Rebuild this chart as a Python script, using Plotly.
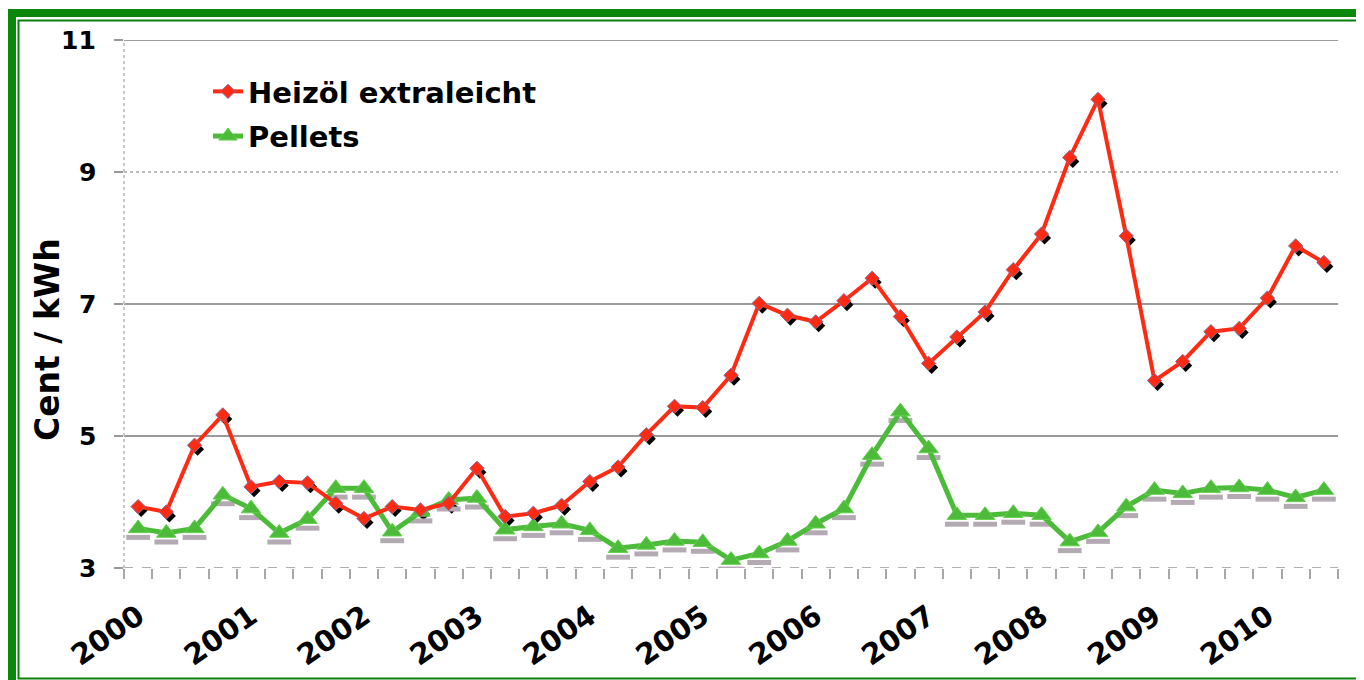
import plotly.graph_objects as go

# -----------------------------
# Data (Cent / kWh, quarterly 2000 Q1 .. 2010 Q3)
# -----------------------------
quarters = [f"{y} Q{q}" for y in range(2000, 2011) for q in range(1, 5)][:43]

heizoel = [
    3.93, 3.85, 4.86, 5.32, 4.23, 4.31, 4.29, 3.98, 3.75, 3.93, 3.88, 3.98,
    4.51, 3.78, 3.83, 3.95, 4.31, 4.53, 5.02, 5.45, 5.43, 5.92, 7.01, 6.83,
    6.73, 7.05, 7.39, 6.81, 6.10, 6.50, 6.88, 7.52, 8.06, 9.22, 10.10, 8.03,
    5.84, 6.13, 6.58, 6.63, 7.09, 7.88, 7.63,
]

pellets = [
    3.60, 3.53, 3.60, 4.11, 3.90, 3.53, 3.74, 4.21, 4.21, 3.55, 3.85, 4.03,
    4.06, 3.58, 3.63, 3.67, 3.57, 3.30, 3.35, 3.41, 3.39, 3.12, 3.22, 3.41,
    3.67, 3.90, 4.71, 5.37, 4.81, 3.80, 3.80, 3.83, 3.80, 3.40, 3.54, 3.93,
    4.18, 4.13, 4.21, 4.22, 4.18, 4.07, 4.18,
]

year_labels = [str(y) for y in range(2000, 2011)]
y_ticks = [3, 5, 7, 9, 11]

xpos = list(range(len(quarters)))
year_pos = [quarters.index(f"{y} Q1") for y in year_labels]

# -----------------------------
# Geometry (screen pixels; page body adds an 8px offset)
# -----------------------------
OFF = 8
W, H = 1364 - OFF, 680 - OFF
L, R, T, B = 124, 1338, 40, 568          # plot area on screen
PW, PH = R - L, B - T


def px(x):
    return (x - L) / PW


def py(y):
    return (B - y) / PH


x_rng = [-0.5, len(quarters) - 0.5]
y_rng = [3, 11]
ux = PW / len(quarters)            # px per category
uy = PH / (y_rng[1] - y_rng[0])    # px per cent

RED = "#ff2a12"
GREEN = "#4cbb3a"
FONT = "DejaVu Sans"

fig = go.Figure()

# -----------------------------
# Shadows: own subplots (same area), shifted ranges, drawn first
# -----------------------------
fig.add_trace(go.Scatter(
    x=xpos, y=heizoel, mode="markers", xaxis="x", yaxis="y",
    marker=dict(symbol="diamond", size=10, color="black"),
    showlegend=False, hoverinfo="skip",
))
fig.add_trace(go.Scatter(
    x=xpos, y=pellets, mode="markers", xaxis="x2", yaxis="y2",
    marker=dict(symbol="line-ew", size=17, line=dict(color="#b4aab4", width=5)),
    showlegend=False, hoverinfo="skip",
))

# -----------------------------
# Main series
# -----------------------------
fig.add_trace(go.Scatter(
    x=xpos, y=pellets, name="<b>Pellets</b>", mode="lines+markers",
    xaxis="x3", yaxis="y3", legendgroup="b", legendrank=2,
    line=dict(color=GREEN, width=5),
    marker=dict(symbol="triangle-up", size=17, color=GREEN,
                line=dict(color="#63d04f", width=1)),
    text=quarters, hovertemplate="%{text}: %{y}<extra>Pellets</extra>",
))
fig.add_trace(go.Scatter(
    x=xpos, y=heizoel, name="<b>Heizöl extraleicht</b>", mode="lines+markers",
    xaxis="x3", yaxis="y3", legendgroup="a", legendrank=1,
    line=dict(color=RED, width=4),
    marker=dict(symbol="diamond", size=11, color=RED,
                line=dict(color="#8a6a9a", width=1)),
    text=quarters, hovertemplate="%{text}: %{y}<extra>Heizöl</extra>",
))


def hidden(anchor, rng):
    return dict(anchor=anchor, domain=[0, 1], range=rng, visible=False,
                showgrid=False, zeroline=False, automargin=False)


fig.update_layout(
    width=W, height=H,
    margin=dict(l=L - OFF, r=W + OFF - R, t=T - OFF, b=H + OFF - B, pad=0),
    paper_bgcolor="white",
    plot_bgcolor="rgba(0,0,0,0)",
    font=dict(family=FONT, color="black"),
    showlegend=True,
    legend=dict(
        x=px(208), y=py(66), xanchor="left", yanchor="top",
        font=dict(family=FONT, size=29, color="black"),
        traceorder="grouped", tracegroupgap=4,
        bgcolor="rgba(0,0,0,0)",
    ),
    xaxis=hidden("y", [x_rng[0] - 3 / ux, x_rng[1] - 3 / ux]),
    yaxis=hidden("x", [y_rng[0] + 4 / uy, y_rng[1] + 4 / uy]),
    xaxis2=hidden("y2", x_rng),
    yaxis2=hidden("x2", [y_rng[0] + 9 / uy, y_rng[1] + 9 / uy]),
    xaxis3=dict(
        anchor="y3", domain=[0, 1], automargin=False,
        range=x_rng, tickmode="array", tickvals=year_pos,
        ticktext=[f"<b>{t}</b>" for t in year_labels],
        tickangle=-35, ticks="outside", ticklen=19, tickcolor="rgba(0,0,0,0)",
        tickfont=dict(family=FONT, size=29, color="black"),
        showgrid=False, zeroline=False, showline=False,
        minor=dict(ticks="outside", tick0=-0.5, dtick=1, ticklen=10,
                   tickcolor="#a8a8a8", tickwidth=2, showgrid=False),
    ),
    yaxis3=dict(
        anchor="x3", domain=[0, 1], automargin=False,
        range=y_rng, tickmode="array", tickvals=y_ticks,
        showticklabels=False,
        ticks="outside", ticklen=9, tickcolor="#999999", tickwidth=2,
        showgrid=False, zeroline=False, showline=False,
    ),
)

# gridlines: solid grey, the 9 line light and dotted; x axis dashed
grid_style = {9: dict(color="#bdbdbd", width=2, dash="dot")}
for t in y_ticks:
    if t == y_rng[0]:
        style = dict(color="#b0b0b0", width=2, dash="dash")
    else:
        style = grid_style.get(t, dict(color="#9a9a9a", width=2))
    fig.add_shape(type="line", xref="paper", yref="y3",
                  x0=0, x1=1, y0=t, y1=t, line=style, layer="below")

# y axis line, light dotted
fig.add_shape(type="line", xref="paper", yref="paper", x0=0, x1=0, y0=0, y1=1,
              line=dict(color="#c8c8c8", width=2, dash="dot"), layer="below")

# y tick labels, set a little away from the ticks
for t in y_ticks:
    fig.add_annotation(
        text=f"<b>{t}</b>", xref="paper", yref="y3",
        x=px(98), y=t, xanchor="right", yanchor="middle", showarrow=False,
        font=dict(family=FONT, size=25, color="black"),
    )

# y axis title
fig.add_annotation(
    text="<b>Cent / kWh</b>", xref="paper", yref="paper",
    x=px(48), y=py(340), xanchor="center", yanchor="middle",
    textangle=-90, showarrow=False,
    font=dict(family=FONT, size=33, color="black"),
)

# green frame
fig.add_shape(type="rect", xref="paper", yref="paper",
              x0=px(7), x1=px(1366), y0=py(9), y1=py(17),
              fillcolor="#0b870b", line_width=0, layer="below")
fig.add_shape(type="rect", xref="paper", yref="paper",
              x0=px(7), x1=px(16), y0=py(9), y1=py(682),
              fillcolor="#0b870b", line_width=0, layer="below")
fig.add_shape(type="rect", xref="paper", yref="paper",
              x0=px(18.5), x1=px(1362.5), y0=py(20.5), y1=py(678.5),
              line=dict(color="#0a7f0a", width=2), fillcolor="rgba(0,0,0,0)",
              layer="below")

fig.write_html("out.html")
